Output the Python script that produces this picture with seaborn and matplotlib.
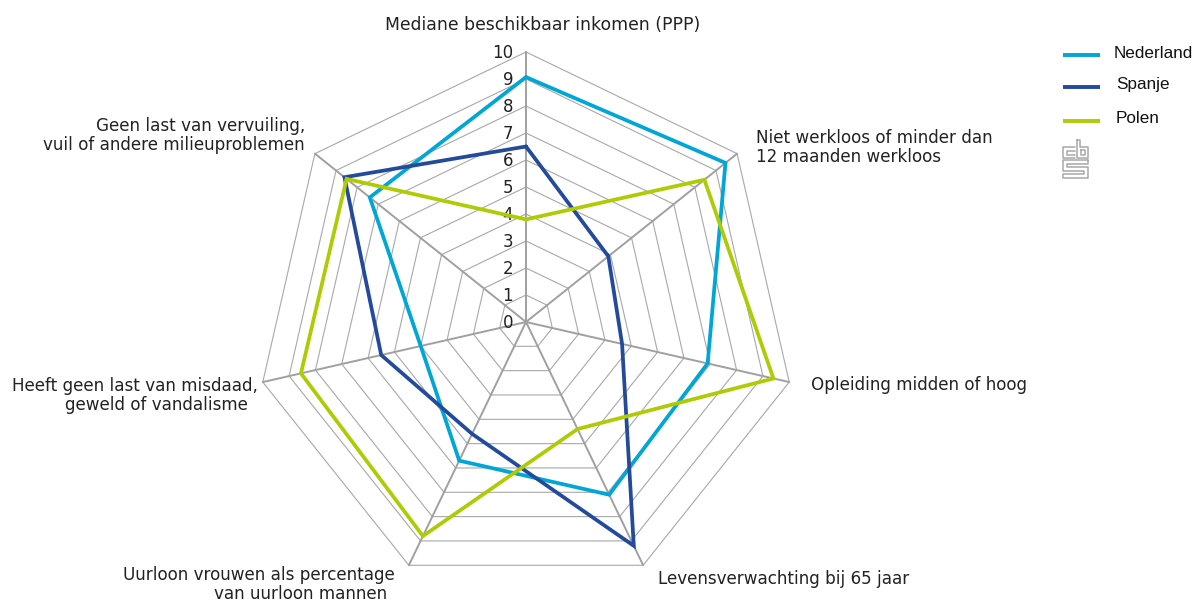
import numpy as np
import pandas as pd
import matplotlib
matplotlib.use("Agg")
import matplotlib.pyplot as plt
from matplotlib.lines import Line2D
import seaborn as sns

# waarden per as, met de klok mee vanaf boven
nederland = [9.07, 9.45, 6.9, 7.1, 5.7, 4.0, 7.4]
spanje = [6.5, 3.9, 3.65, 9.2, 4.6, 5.5, 8.6]
polen = [3.8, 8.45, 9.4, 4.4, 8.8, 8.55, 8.5]
landen = ["Nederland", "Spanje", "Polen"]
kleuren = ["#00a6d6", "#234a9b", "#afcb05"]
ticks = list(range(0, 11))

W, H = 1195, 601
CX, CY, R = 526, 322, 270
n_axes = len(nederland)
angles = [2 * np.pi * i / n_axes for i in range(n_axes)]

rows = []
for land, vals in zip(landen, [nederland, spanje, polen]):
    for a, v in zip(angles + angles[:1], vals + vals[:1]):
        rows.append({"hoek": a, "waarde": v, "land": land})
df = pd.DataFrame(rows)

sns.set_theme(style="white")
plt.rcParams["font.family"] = ["DejaVu Sans"]

fig = plt.figure(figsize=(W / 100, H / 100), dpi=100)
ax = fig.add_axes([(CX - R) / W, 1 - (CY + R) / H, 2 * R / W, 2 * R / H], projection="polar")
ax.set_theta_zero_location("N")
ax.set_theta_direction(-1)
ax.set_ylim(0, 10)
ax.grid(False)
ax.set_xticks([])
ax.set_yticks([])
ax.spines["polar"].set_visible(False)
ax.patch.set_alpha(0)

# webstructuur
for t in ticks[1:]:
    ax.plot(angles + angles[:1], [t] * (n_axes + 1), color="#a8a8a8", lw=0.8, zorder=1, clip_on=False)
for a in angles:
    ax.plot([a, a], [0, 10], color="#a0a0a0", lw=1.4, zorder=1.1, clip_on=False)

sns.lineplot(data=df, x="hoek", y="waarde", hue="land", hue_order=landen, palette=kleuren,
             sort=False, estimator=None, errorbar=None, lw=2.7, ax=ax, legend=False, zorder=3)
ax.set_xlabel("")
ax.set_ylabel("")
for line in ax.lines:
    line.set_solid_joinstyle("miter")
    line.set_clip_on(False)

for t in ticks:
    ax.annotate(str(t), (0, t), xytext=(-13, -1), textcoords="offset pixels", ha="right", va="center",
                fontsize=12, color="#222222", zorder=2)

TXT = "#222222"


def label(x, y, s, ha="left", size=12.1):
    fig.text(x / W, 1 - y / H, s, ha=ha, va="center", fontsize=size, color=TXT)


label(543, 25, "Mediane beschikbaar inkomen (PPP)", ha="center", size=12.4)
label(756, 138, "Niet werkloos of minder dan")
label(756, 157, "12 maanden werkloos")
label(811, 385, "Opleiding midden of hoog")
label(658, 579, "Levensverwachting bij 65 jaar")
label(395, 575, "Uurloon vrouwen als percentage", ha="right")
label(387, 594, "van uurloon mannen", ha="right")
label(258, 386, "Heeft geen last van misdaad,", ha="right")
label(248, 405, "geweld of vandalisme", ha="right")
label(305, 126, "Geen last van vervuiling,", ha="right")
label(305, 145, "vuil of andere milieuproblemen", ha="right")

# legenda
for y_line, y_txt, x_txt, naam, kleur in zip([55, 87, 121], [53, 85, 118], [1114, 1116, 1116], landen, kleuren):
    fig.add_artist(Line2D([1063 / W, 1100 / W], [1 - y_line / H] * 2, color=kleur, lw=2.8,
                          transform=fig.transFigure, solid_capstyle="butt"))
    fig.text(x_txt / W, 1 - y_txt / H, naam, ha="left", va="center", fontsize=12.3,
             family="Liberation Sans", color="#111111")

# cbs-logo
logo = [
    [(1075, 147), (1063, 147), (1063, 158), (1075, 158)],
    [(1075, 150.5), (1067, 150.5), (1067, 154.5), (1075, 154.5)],
    [(1077, 140), (1077, 158), (1088, 158), (1088, 147), (1080, 147), (1080, 140), (1077, 140)],
    [(1081, 150), (1085, 150), (1085, 155), (1081, 155), (1081, 150)],
    [(1088, 160), (1063, 160), (1063, 171), (1084, 171), (1084, 174), (1063, 174), (1063, 178),
     (1088, 178), (1088, 167), (1067, 167), (1067, 164), (1088, 164), (1088, 160)],
]
for seg in logo:
    xs = [p[0] / W for p in seg]
    ys = [1 - p[1] / H for p in seg]
    fig.add_artist(Line2D(xs, ys, color="#a8a8a8", lw=1.1, transform=fig.transFigure))

fig.savefig("out.png", dpi=100)
